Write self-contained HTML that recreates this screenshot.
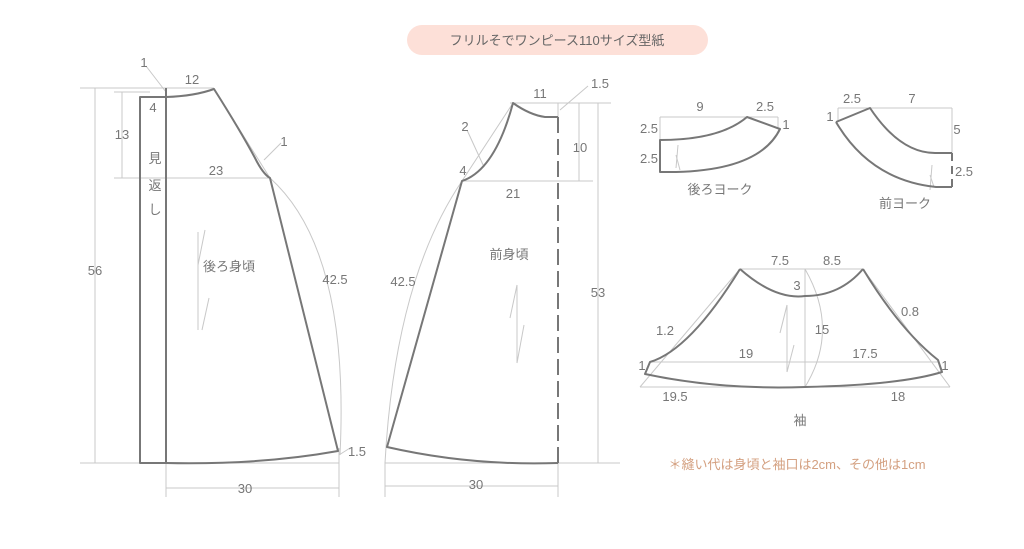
<!DOCTYPE html>
<html><head><meta charset="utf-8"><style>
html,body{margin:0;padding:0;background:#fff;}
svg{display:block;}
text{font-family:"Liberation Sans","Noto Sans CJK JP",sans-serif;fill:#777;font-size:13px;}
</style></head><body>
<svg width="1024" height="549" viewBox="0 0 1024 549" xmlns="http://www.w3.org/2000/svg">
<rect x="407" y="25" width="301" height="30" rx="15" fill="#fde0d8"/>
<text x="557" y="45" text-anchor="middle" font-size="14" style="fill:#666">フリルそでワンピース110サイズ型紙</text>

<g stroke="#c8c8c8" stroke-width="1" fill="none">
<line x1="80" y1="88" x2="214" y2="88"/>
<line x1="95" y1="88" x2="95" y2="463"/>
<line x1="80" y1="463" x2="339" y2="463"/>
<line x1="122" y1="92" x2="122" y2="178"/>
<line x1="114" y1="92" x2="150" y2="92"/>
<line x1="114" y1="178" x2="270" y2="178"/>
<line x1="166" y1="463" x2="166" y2="497"/>
<line x1="339" y1="448" x2="339" y2="497"/>
<line x1="166" y1="488" x2="339" y2="488"/>
<line x1="146" y1="66" x2="166" y2="92"/>
<line x1="214" y1="89" x2="270" y2="178"/>
<line x1="264" y1="160" x2="281" y2="143"/>
<line x1="339" y1="455" x2="350" y2="448"/>
<path d="M270 178 Q350 250 340 455"/>
<line x1="205" y1="230" x2="198" y2="265"/>
<line x1="198" y1="232" x2="198" y2="330"/>
<line x1="209" y1="298" x2="202" y2="330"/>
<line x1="510" y1="103" x2="611" y2="103"/>
<line x1="462" y1="181" x2="593" y2="181"/>
<line x1="385" y1="463" x2="620" y2="463"/>
<line x1="579" y1="103" x2="579" y2="181"/>
<line x1="598" y1="103" x2="598" y2="463"/>
<line x1="385" y1="463" x2="385" y2="497"/>
<line x1="558" y1="463" x2="558" y2="497"/>
<line x1="385" y1="486" x2="558" y2="486"/>
<line x1="558" y1="103" x2="558" y2="117"/>
<line x1="560" y1="110" x2="588" y2="86"/>
<line x1="513" y1="103" x2="462" y2="181"/>
<line x1="467" y1="130" x2="484" y2="167"/>
<path d="M462 181 Q395 280 385 463"/>
<line x1="517" y1="285" x2="510" y2="318"/>
<line x1="517" y1="285" x2="517" y2="363"/>
<line x1="524" y1="325" x2="517" y2="363"/>
<line x1="660" y1="117" x2="778" y2="117"/>
<line x1="660" y1="117" x2="660" y2="140"/>
<line x1="778" y1="117" x2="778" y2="129"/>
<line x1="678" y1="145" x2="676" y2="168"/>
<line x1="676" y1="155" x2="680" y2="170"/>
<line x1="838" y1="108" x2="952" y2="108"/>
<line x1="838" y1="108" x2="838" y2="122"/>
<line x1="952" y1="108" x2="952" y2="153"/>
<line x1="932" y1="165" x2="930" y2="190"/>
<line x1="930" y1="175" x2="934" y2="187"/>
<line x1="740" y1="269" x2="863" y2="269"/>
<line x1="650" y1="362" x2="938" y2="362"/>
<line x1="640" y1="387" x2="950" y2="387"/>
<line x1="740" y1="269" x2="640" y2="387"/>
<line x1="863" y1="269" x2="950" y2="387"/>
<line x1="805" y1="269" x2="805" y2="387"/>
<path d="M805 269 Q840 330 805 387"/>
<line x1="787" y1="305" x2="780" y2="333"/>
<line x1="787" y1="305" x2="787" y2="372"/>
<line x1="794" y1="345" x2="787" y2="372"/>
</g>

<g stroke="#777" stroke-width="2" fill="none" stroke-linejoin="round">
<rect x="140" y="97" width="26" height="366"/>
<line x1="166" y1="88" x2="166" y2="463"/>
<path d="M166 97 Q195 96 214 89 Q240 130 255 158 Q263 174 270 178 L338 451 Q260 465 166 463"/>
<path d="M558 117 L545 117 Q530 115 513 103 Q495 170 462 181 L387 447 Q470 466 558 463"/>
<line x1="558" y1="117" x2="558" y2="463" stroke-dasharray="16,6"/>
<path d="M660 140 Q720 140 747 117 L780 129 Q760 170 676 172 L660 172 Z"/>
<path d="M836 122 L870 108 Q900 153 935 153 L952 153"/>
<line x1="952" y1="153" x2="952" y2="187" stroke-dasharray="8,5"/>
<path d="M952 187 L936 187 Q870 180 836 122"/>
<path d="M740 269 Q775 300 805 296 Q840 296 863 269"/>
<path d="M740 269 Q690 350 650 362 L645 374 Q720 390 805 387 Q900 385 942 372 L938 360 Q900 330 863 269"/>
</g>

<g>
<text x="144" y="67" text-anchor="middle">1</text>
<text x="192" y="84" text-anchor="middle">12</text>
<text x="153" y="112" text-anchor="middle">4</text>
<text x="122" y="139" text-anchor="middle">13</text>
<text x="155" y="163" text-anchor="middle">見</text>
<text x="155" y="190" text-anchor="middle">返</text>
<text x="155" y="214" text-anchor="middle">し</text>
<text x="284" y="146" text-anchor="middle">1</text>
<text x="216" y="175" text-anchor="middle">23</text>
<text x="95" y="275" text-anchor="middle">56</text>
<text x="229" y="271" text-anchor="middle">後ろ身頃</text>
<text x="335" y="284" text-anchor="middle">42.5</text>
<text x="357" y="456" text-anchor="middle">1.5</text>
<text x="245" y="493" text-anchor="middle">30</text>
<text x="540" y="98" text-anchor="middle">11</text>
<text x="600" y="88" text-anchor="middle">1.5</text>
<text x="465" y="131" text-anchor="middle">2</text>
<text x="580" y="152" text-anchor="middle">10</text>
<text x="463" y="175" text-anchor="middle">4</text>
<text x="513" y="198" text-anchor="middle">21</text>
<text x="509" y="259" text-anchor="middle">前身頃</text>
<text x="403" y="286" text-anchor="middle">42.5</text>
<text x="598" y="297" text-anchor="middle">53</text>
<text x="476" y="489" text-anchor="middle">30</text>
<text x="700" y="111" text-anchor="middle">9</text>
<text x="765" y="111" text-anchor="middle">2.5</text>
<text x="649" y="133" text-anchor="middle">2.5</text>
<text x="786" y="129" text-anchor="middle">1</text>
<text x="649" y="163" text-anchor="middle">2.5</text>
<text x="720" y="194" text-anchor="middle">後ろヨーク</text>
<text x="852" y="103" text-anchor="middle">2.5</text>
<text x="912" y="103" text-anchor="middle">7</text>
<text x="830" y="121" text-anchor="middle">1</text>
<text x="957" y="134" text-anchor="middle">5</text>
<text x="964" y="176" text-anchor="middle">2.5</text>
<text x="905" y="208" text-anchor="middle">前ヨーク</text>
<text x="780" y="265" text-anchor="middle">7.5</text>
<text x="832" y="265" text-anchor="middle">8.5</text>
<text x="797" y="290" text-anchor="middle">3</text>
<text x="910" y="316" text-anchor="middle">0.8</text>
<text x="665" y="335" text-anchor="middle">1.2</text>
<text x="822" y="334" text-anchor="middle">15</text>
<text x="746" y="358" text-anchor="middle">19</text>
<text x="865" y="358" text-anchor="middle">17.5</text>
<text x="642" y="370" text-anchor="middle">1</text>
<text x="945" y="370" text-anchor="middle">1</text>
<text x="675" y="401" text-anchor="middle">19.5</text>
<text x="898" y="401" text-anchor="middle">18</text>
<text x="800" y="425" text-anchor="middle">袖</text>
<text x="797" y="469" text-anchor="middle" style="fill:#d4a080">＊縫い代は身頃と袖口は2cm、その他は1cm</text>
</g>
</svg>
</body></html>
